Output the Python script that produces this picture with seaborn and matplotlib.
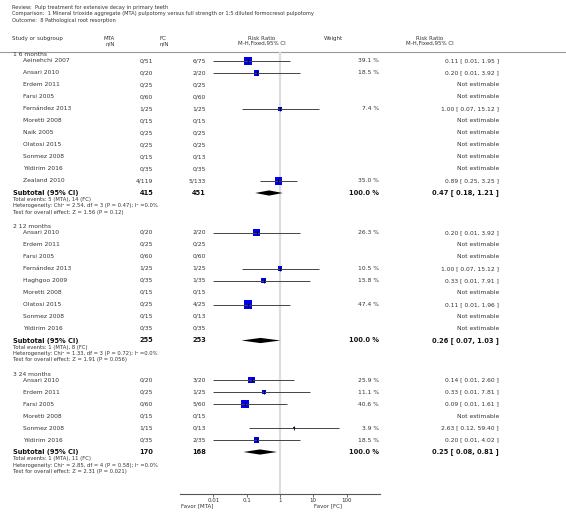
import numpy as np
import pandas as pd
import matplotlib
matplotlib.use("Agg")
import matplotlib.pyplot as plt
import seaborn as sns

# ============================================================
# Data
# ============================================================

review_lines = [
    "Review:  Pulp treatment for extensive decay in primary teeth",
    "Comparison:  1 Mineral trioxide aggregate (MTA) pulpotomy versus full strength or 1:5 diluted formocresol pulpotomy",
    "Outcome:  8 Pathological root resorption",
]

g1_title = "1 6 months"
g1_study = ["Aeinehchi 2007", "Ansari 2010", "Erdem 2011", "Farsi 2005", "Fernández 2013",
            "Moretti 2008", "Naik 2005", "Olatosi 2015", "Sonmez 2008", "Yildirim 2016", "Zealand 2010"]
g1_mta = ["0/51", "0/20", "0/25", "0/60", "1/25", "0/15", "0/25", "0/25", "0/15", "0/35", "4/119"]
g1_fc = ["6/75", "2/20", "0/25", "0/60", "1/25", "0/15", "0/25", "0/25", "0/13", "0/35", "5/133"]
g1_weight = [39.1, 18.5, np.nan, np.nan, 7.4, np.nan, np.nan, np.nan, np.nan, np.nan, 35.0]
g1_rr = [0.11, 0.20, np.nan, np.nan, 1.00, np.nan, np.nan, np.nan, np.nan, np.nan, 0.89]
g1_lo = [0.01, 0.01, np.nan, np.nan, 0.07, np.nan, np.nan, np.nan, np.nan, np.nan, 0.25]
g1_hi = [1.95, 3.92, np.nan, np.nan, 15.12, np.nan, np.nan, np.nan, np.nan, np.nan, 3.25]
g1_total = ("415", "451")
g1_sub = (0.47, 0.18, 1.21)
g1_notes = ["Total events: 5 (MTA), 14 (FC)",
            "Heterogeneity: Chi² = 2.54, df = 3 (P = 0.47); I² =0.0%",
            "Test for overall effect: Z = 1.56 (P = 0.12)"]

g2_title = "2 12 months"
g2_study = ["Ansari 2010", "Erdem 2011", "Farsi 2005", "Fernández 2013", "Haghgoo 2009",
            "Moretti 2008", "Olatosi 2015", "Sonmez 2008", "Yildirim 2016"]
g2_mta = ["0/20", "0/25", "0/60", "1/25", "0/35", "0/15", "0/25", "0/15", "0/35"]
g2_fc = ["2/20", "0/25", "0/60", "1/25", "1/35", "0/15", "4/25", "0/13", "0/35"]
g2_weight = [26.3, np.nan, np.nan, 10.5, 15.8, np.nan, 47.4, np.nan, np.nan]
g2_rr = [0.20, np.nan, np.nan, 1.00, 0.33, np.nan, 0.11, np.nan, np.nan]
g2_lo = [0.01, np.nan, np.nan, 0.07, 0.01, np.nan, 0.01, np.nan, np.nan]
g2_hi = [3.92, np.nan, np.nan, 15.12, 7.91, np.nan, 1.96, np.nan, np.nan]
g2_total = ("255", "253")
g2_sub = (0.26, 0.07, 1.03)
g2_notes = ["Total events: 1 (MTA), 8 (FC)",
            "Heterogeneity: Chi² = 1.33, df = 3 (P = 0.72); I² =0.0%",
            "Test for overall effect: Z = 1.91 (P = 0.056)"]

g3_title = "3 24 months"
g3_study = ["Ansari 2010", "Erdem 2011", "Farsi 2005", "Moretti 2008", "Sonmez 2008", "Yildirim 2016"]
g3_mta = ["0/20", "0/25", "0/60", "0/15", "1/15", "0/35"]
g3_fc = ["3/20", "1/25", "5/60", "0/15", "0/13", "2/35"]
g3_weight = [25.9, 11.1, 40.6, np.nan, 3.9, 18.5]
g3_rr = [0.14, 0.33, 0.09, np.nan, 2.63, 0.20]
g3_lo = [0.01, 0.01, 0.01, np.nan, 0.12, 0.01]
g3_hi = [2.60, 7.81, 1.61, np.nan, 59.40, 4.02]
g3_total = ("170", "168")
g3_sub = (0.25, 0.08, 0.81)
g3_notes = ["Total events: 1 (MTA), 11 (FC)",
            "Heterogeneity: Chi² = 2.85, df = 4 (P = 0.58); I² =0.0%",
            "Test for overall effect: Z = 2.31 (P = 0.021)"]

tick_values = [0.01, 0.1, 1, 10, 100]
tick_labels = ["0.01", "0.1", "1", "10", "100"]
favor_left = "Favor [MTA]"
favor_right = "Favor [FC]"

groups = [
    (g1_title, g1_study, g1_mta, g1_fc, g1_weight, g1_rr, g1_lo, g1_hi, g1_total, g1_sub, g1_notes),
    (g2_title, g2_study, g2_mta, g2_fc, g2_weight, g2_rr, g2_lo, g2_hi, g2_total, g2_sub, g2_notes),
    (g3_title, g3_study, g3_mta, g3_fc, g3_weight, g3_rr, g3_lo, g3_hi, g3_total, g3_sub, g3_notes),
]

# ============================================================
# Figure setup
# ============================================================

sns.set_theme(style="white")
plt.rcParams['font.family'] = ['DejaVu Sans']

W, H = 566, 525
TXT = '#333333'
fig = plt.figure(figsize=(W / 100, H / 100), dpi=100)

# text layer in pixel coordinates
ax = fig.add_axes([0, 0, 1, 1])
ax.set_xlim(0, W)
ax.set_ylim(H, 0)
ax.axis('off')

# forest panel (log scale) sharing the pixel rows
AX_L, AX_R, AX_T, AX_B = 180, 380, 52, 494
fx = fig.add_axes([AX_L / W, 1 - AX_B / H, (AX_R - AX_L) / W, (AX_B - AX_T) / H])
fx.patch.set_alpha(0)

# header
for i, line in enumerate(review_lines):
    ax.text(12, 7.5 + 6.5 * i, line, fontsize=3.7, color=TXT, va='center')

hy1, hy2 = 38.5, 43.5
ax.text(12, hy1, "Study or subgroup", fontsize=4.0, color=TXT, va='center')
ax.text(115, hy1, "MTA", fontsize=4.0, color=TXT, va='center', ha='right')
ax.text(115, hy2, "n/N", fontsize=4.0, color=TXT, va='center', ha='right')
ax.text(159, hy1, "FC", fontsize=4.0, color=TXT, va='center', ha='left')
ax.text(159, hy2, "n/N", fontsize=4.0, color=TXT, va='center', ha='left')
ax.text(262, hy1, "Risk Ratio", fontsize=4.0, color=TXT, va='center', ha='center')
ax.text(262, hy2, "M-H,Fixed,95% CI", fontsize=4.0, color=TXT, va='center', ha='center')
ax.text(333, hy1, "Weight", fontsize=4.0, color=TXT, va='center', ha='center')
ax.text(430, hy1, "Risk Ratio", fontsize=4.0, color=TXT, va='center', ha='center')
ax.text(430, hy2, "M-H,Fixed,95% CI", fontsize=4.0, color=TXT, va='center', ha='center')
ax.plot([0, W], [51.5, 51.5], color='#999999', lw=0.8)

# ============================================================
# Rows
# ============================================================

squares = []
y = 55
for title, study, mta, fc, weight, rr, lo, hi, total, sub, notes in groups:
    ax.text(13, y, title, fontsize=4.3, color=TXT, va='center')
    ys = y + 6
    for k in range(len(study)):
        ax.text(23, ys, study[k], fontsize=4.3, color=TXT, va='center')
        ax.text(153, ys, mta[k], fontsize=4.3, color=TXT, va='center', ha='right')
        ax.text(206, ys, fc[k], fontsize=4.3, color=TXT, va='center', ha='right')
        if np.isnan(rr[k]):
            ax.text(499, ys, "Not estimable", fontsize=4.3, color=TXT, va='center', ha='right')
        else:
            ax.text(379, ys, f"{weight[k]:.1f} %", fontsize=4.3, color=TXT, va='center', ha='right')
            ax.text(499, ys, f"{rr[k]:.2f} [ {lo[k]:.2f}, {hi[k]:.2f} ]", fontsize=4.3,
                    color=TXT, va='center', ha='right')
            fx.hlines(ys, lo[k], hi[k], color='#444444', lw=0.7, zorder=3)
            fx.plot(rr[k], ys, marker='|', ms=2.5, mew=0.6, color='black', zorder=4)
            squares.append((rr[k], ys, weight[k]))
        ys += 12
    # subtotal
    ax.text(13, ys, "Subtotal (95% CI)", fontsize=4.8, color='#111111', va='center', weight='bold')
    ax.text(153, ys, total[0], fontsize=4.8, color='#111111', va='center', ha='right', weight='bold')
    ax.text(206, ys, total[1], fontsize=4.8, color='#111111', va='center', ha='right', weight='bold')
    ax.text(379, ys, "100.0 %", fontsize=4.8, color='#111111', va='center', ha='right', weight='bold')
    ax.text(499, ys, f"{sub[0]:.2f} [ {sub[1]:.2f}, {sub[2]:.2f} ]", fontsize=4.8,
            color='#111111', va='center', ha='right', weight='bold')
    fx.fill([sub[1], sub[0], sub[2], sub[0]], [ys, ys - 2.6, ys, ys + 2.6],
            color='black', lw=0, zorder=3)
    ny = ys
    for note in notes:
        ny += 6.5
        ax.text(13, ny, note, fontsize=3.8, color=TXT, va='center')
    y = ny + 14

sq = pd.DataFrame(squares, columns=['rr', 'y', 'weight'])
# area proportional to weight (side 8 px at 40 %)
sns.scatterplot(data=sq, x='rr', y='y', size='weight', sizes=(0, 83), size_norm=(0, 100),
                marker='s', color='#0000ee', edgecolor='none', linewidth=0,
                legend=False, ax=fx, zorder=2)

# ============================================================
# Forest axis styling
# ============================================================

fx.set_xscale('log')
fx.set_xlim(1e-3, 1e3)
fx.set_ylim(AX_B, AX_T)
fx.axvline(1, color='#dddddd', lw=1.6, zorder=0)
for s in ['top', 'left', 'right']:
    fx.spines[s].set_visible(False)
fx.spines['bottom'].set_color('#555555')
fx.spines['bottom'].set_linewidth(0.8)
fx.set_xticks(tick_values)
fx.set_xticklabels(tick_labels, fontsize=4.0, color=TXT)
fx.minorticks_off()
fx.tick_params(axis='x', bottom=True, length=2, width=0.6, pad=1, color='#555555')
fx.set_yticks([])
fx.set_xlabel('')
fx.set_ylabel('')

ax.text(213, 506, favor_left, fontsize=4.0, color=TXT, va='center', ha='right')
ax.text(314, 506, favor_right, fontsize=4.0, color=TXT, va='center', ha='left')

fig.savefig('out.png', dpi=100)
